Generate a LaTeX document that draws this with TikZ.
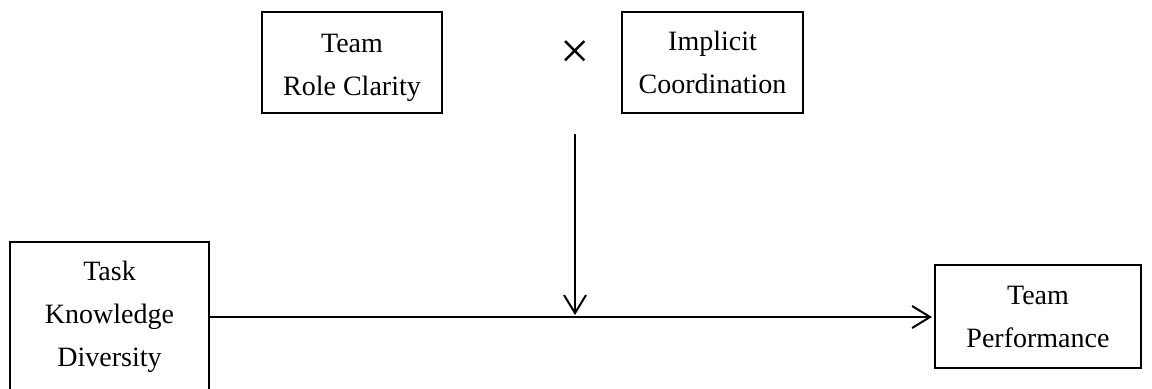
\documentclass[tikz,border=0pt]{standalone}
\usepackage{fontspec}
\setmainfont{Liberation Serif}
\usetikzlibrary{arrows.meta,positioning}

\begin{document}
\begin{tikzpicture}[x=0.5pt, y=-0.5pt, line width=1pt, on grid,
    box/.style  = {draw, align=center, inner sep=0pt, font=\fontsize{14}{21.5}\selectfont},
    link/.style = {-{Straight Barb[length=9pt, width=11pt]}, shorten >=1pt}]
                \clip (0,0) rectangle (1152,389);
                \node[box, minimum width=90pt, minimum height=50.5pt] (clarity) at (352,62.5) {\rule{0pt}{15pt}Team\\Role Clarity};
                \node[box, minimum width=90.5pt, minimum height=50.5pt, right=180.25pt of clarity] (coord) {Implicit\\Coordination};
                \node[font=\fontsize{26}{26}\selectfont] (times) at (575,55) {×};
                \node[box, minimum width=99.5pt, minimum height=75pt] (task) at (109.5,317) {Task\\Knowledge\\Diversity};
                \node[box, minimum width=103pt, minimum height=51.5pt, right=464.25pt of task] (perf) {Team\\Performance};
                \coordinate (mod) at (575,134);

                \draw[link] (task) -- (perf);
                \draw[link] (mod) -- (mod |- task.east);
            \end{tikzpicture}
\end{document}
